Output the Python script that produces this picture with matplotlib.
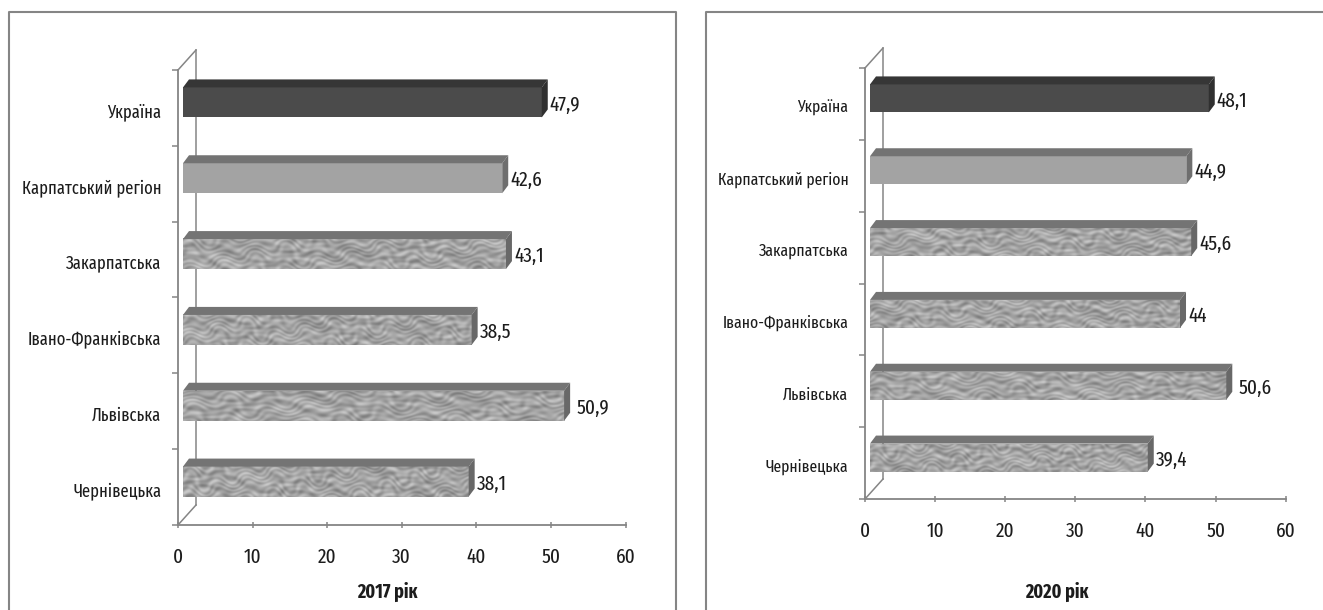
# two 3D looking horizontal bar panels, 2017 and 2020
import numpy as np
import matplotlib.pyplot as plt
from matplotlib import font_manager as fm
from matplotlib.lines import Line2D
from matplotlib.patches import Polygon

# narrow font if there is one, otherwise shrink the normal one so labels still fit
installed = set(f.name for f in fm.fontManager.ttflist)
if 'Fira Sans Extra Condensed' in installed:
    plt.rcParams['font.family'] = ['Fira Sans Extra Condensed', 'DejaVu Sans']
    baseSize = 15
else:
    plt.rcParams['font.family'] = ['Liberation Sans', 'DejaVu Sans']
    baseSize = 11.3

# data
regions = ['Україна', 'Карпатський регіон', 'Закарпатська', 'Івано-Франківська', 'Львівська', 'Чернівецька']
values2017 = [47.9, 42.6, 43.1, 38.5, 50.9, 38.1]
values2020 = [48.1, 44.9, 45.6, 44, 50.6, 39.4]
labels2017 = ['47,9', '42,6', '43,1', '38,5', '50,9', '38,1']
labels2020 = ['48,1', '44,9', '45,6', '44', '50,6', '39,4']
xticks = [0, 10, 20, 30, 40, 50, 60]
title2017 = '2017 рік'
title2020 = '2020 рік'

# figure size in px
figW = 1323
figH = 610
lineCol = '#858585'
textCol = '#1c1c1c'

# front/top/side colour per bar, None front means stone texture
faceCols = ['#4b4b4b', '#a3a3a3', None, None, None, None]
topCols = ['#363636', '#737373', '#747474', '#747474', '#747474', '#747474']
sideCols = ['#303030', '#6e6e6e', '#686868', '#686868', '#686868', '#686868']


def stoneTexture(phase):
    # blotchy grey pattern stretched sideways, built from sines so it stays the same every run
    yy, xx = np.mgrid[0:1:40j, 0:1:400j]
    warp = 0.9 * np.sin(17.3 * xx + 3.1 * yy + phase) + 0.5 * np.sin(41.7 * xx - 7.9 * yy + 2.3 * phase)
    t = (np.sin(13 * yy + 3 * warp) * np.sin(29.1 * xx + 1.7 * warp + phase)
         + 0.7 * np.sin(29 * yy - 4 * warp + 3.7 * np.sin(63.3 * xx))
         + 0.4 * np.sin(11 * yy + 87.9 * xx * (1 + 0.2 * yy) + phase))
    return 0.64 + 0.075 * t


def drawPanel(x0, x60, yBase, yTop, values, labels, title, titleX, barH, labelPads, catSize):
    ax = fig.add_axes([x0 / figW, (figH - yBase) / figH, (x60 - x0) / figW, (yBase - yTop) / figH])
    ax.patch.set_alpha(0)
    ax.set_xlim(0, 60)
    ax.set_ylim(len(regions), 0)
    pxX = 60 / (x60 - x0)
    pxY = len(regions) / (yBase - yTop)

    # bars sit in front of the back wall, shifted a few px
    startX = 5 * pxX
    endX = 6.5 * pxX
    shiftY = 5.5 * pxY
    depthX = 6 * pxX
    depthY = 8 * pxY
    h = barH * pxY
    centers = np.arange(len(regions)) + 0.5

    for i, v in enumerate(values):
        yc = centers[i] - shiftY
        left = startX
        right = v + endX
        top = yc - h / 2
        bottom = yc + h / 2
        ax.barh(yc, right - left, height=h, left=left, color=faceCols[i] or '#a0a0a0', zorder=3)
        if faceCols[i] is None:
            ax.imshow(stoneTexture(i * 1.7 + x0 * 0.01), cmap='gray', vmin=0, vmax=1, aspect='auto',
                      extent=(left, right, bottom, top), interpolation='bilinear', zorder=4)
        ax.add_patch(Polygon([(left, top), (left + depthX, top - depthY), (right + depthX, top - depthY), (right, top)],
                             closed=True, facecolor=topCols[i], edgecolor='none', zorder=5, clip_on=False))
        ax.add_patch(Polygon([(right, top), (right + depthX, top - depthY), (right + depthX, bottom - depthY), (right, bottom)],
                             closed=True, facecolor=sideCols[i], edgecolor='none', zorder=5, clip_on=False))
        ax.text(right + depthX + labelPads[i] * pxX, yc + 2.5 * pxY, labels[i], fontsize=baseSize, color=textCol,
                ha='left', va='center', zorder=6)

    # imshow resets the limits
    ax.set_xlim(0, 60)
    ax.set_ylim(len(regions), 0)

    # back wall
    wallX = 18 * pxX
    wallY = 20 * pxY
    n = len(regions)
    ax.plot([0, wallX], [n, n - wallY], color=lineCol, lw=1.1, clip_on=False, zorder=2)
    ax.plot([0, wallX], [0, -wallY], color=lineCol, lw=1.1, clip_on=False, zorder=2)
    ax.plot([wallX, wallX], [-wallY, n - wallY], color=lineCol, lw=1.1, clip_on=False, zorder=2)

    for s in ['top', 'right']:
        ax.spines[s].set_visible(False)
    for s in ['left', 'bottom']:
        ax.spines[s].set_color(lineCol)
        ax.spines[s].set_linewidth(1.3)

    ax.set_xticks(xticks)
    ax.tick_params(axis='x', length=5, width=1.1, color=lineCol, labelsize=baseSize, labelcolor=textCol, pad=14, direction='inout')
    ax.set_yticks(np.arange(n + 1))
    ax.set_yticklabels([])
    ax.tick_params(axis='y', which='major', length=4, width=1.1, color=lineCol)
    ax.set_yticks(centers + 2 * pxY, minor=True)
    ax.set_yticklabels(regions, minor=True)
    ax.tick_params(axis='y', which='minor', length=0, labelsize=catSize, labelcolor=textCol, pad=12)

    fig.text(titleX / figW, (figH - 592) / figH, title, fontsize=baseSize - 1, fontweight='bold', color=textCol,
             ha='center', va='center')


fig = plt.figure(figsize=(figW / 100, figH / 100), dpi=100, facecolor='white')

# outer frames, open at the bottom
frame1X = [9 / figW, 9 / figW, 676 / figW, 676 / figW]
frame1Y = [0, (figH - 12) / figH, (figH - 12) / figH, 0]
frame2X = [706 / figW, 706 / figW, 1]
frame2Y = [0, (figH - 12) / figH, (figH - 12) / figH]
fig.add_artist(Line2D(frame1X, frame1Y, color=lineCol, lw=1.5))
fig.add_artist(Line2D(frame2X, frame2Y, color=lineCol, lw=1.5))

drawPanel(178, 625.5, 525, 70, values2017, labels2017, title2017, 387, 30, [2, 2, 2, 2, 6, 2], baseSize * 0.865)
drawPanel(865, 1285.7, 499, 68, values2020, labels2020, title2020, 1057, 28, [2, 2, 2, 2, 6, 2], baseSize * 0.815)

plt.savefig('out.png', dpi=100)
plt.close()
